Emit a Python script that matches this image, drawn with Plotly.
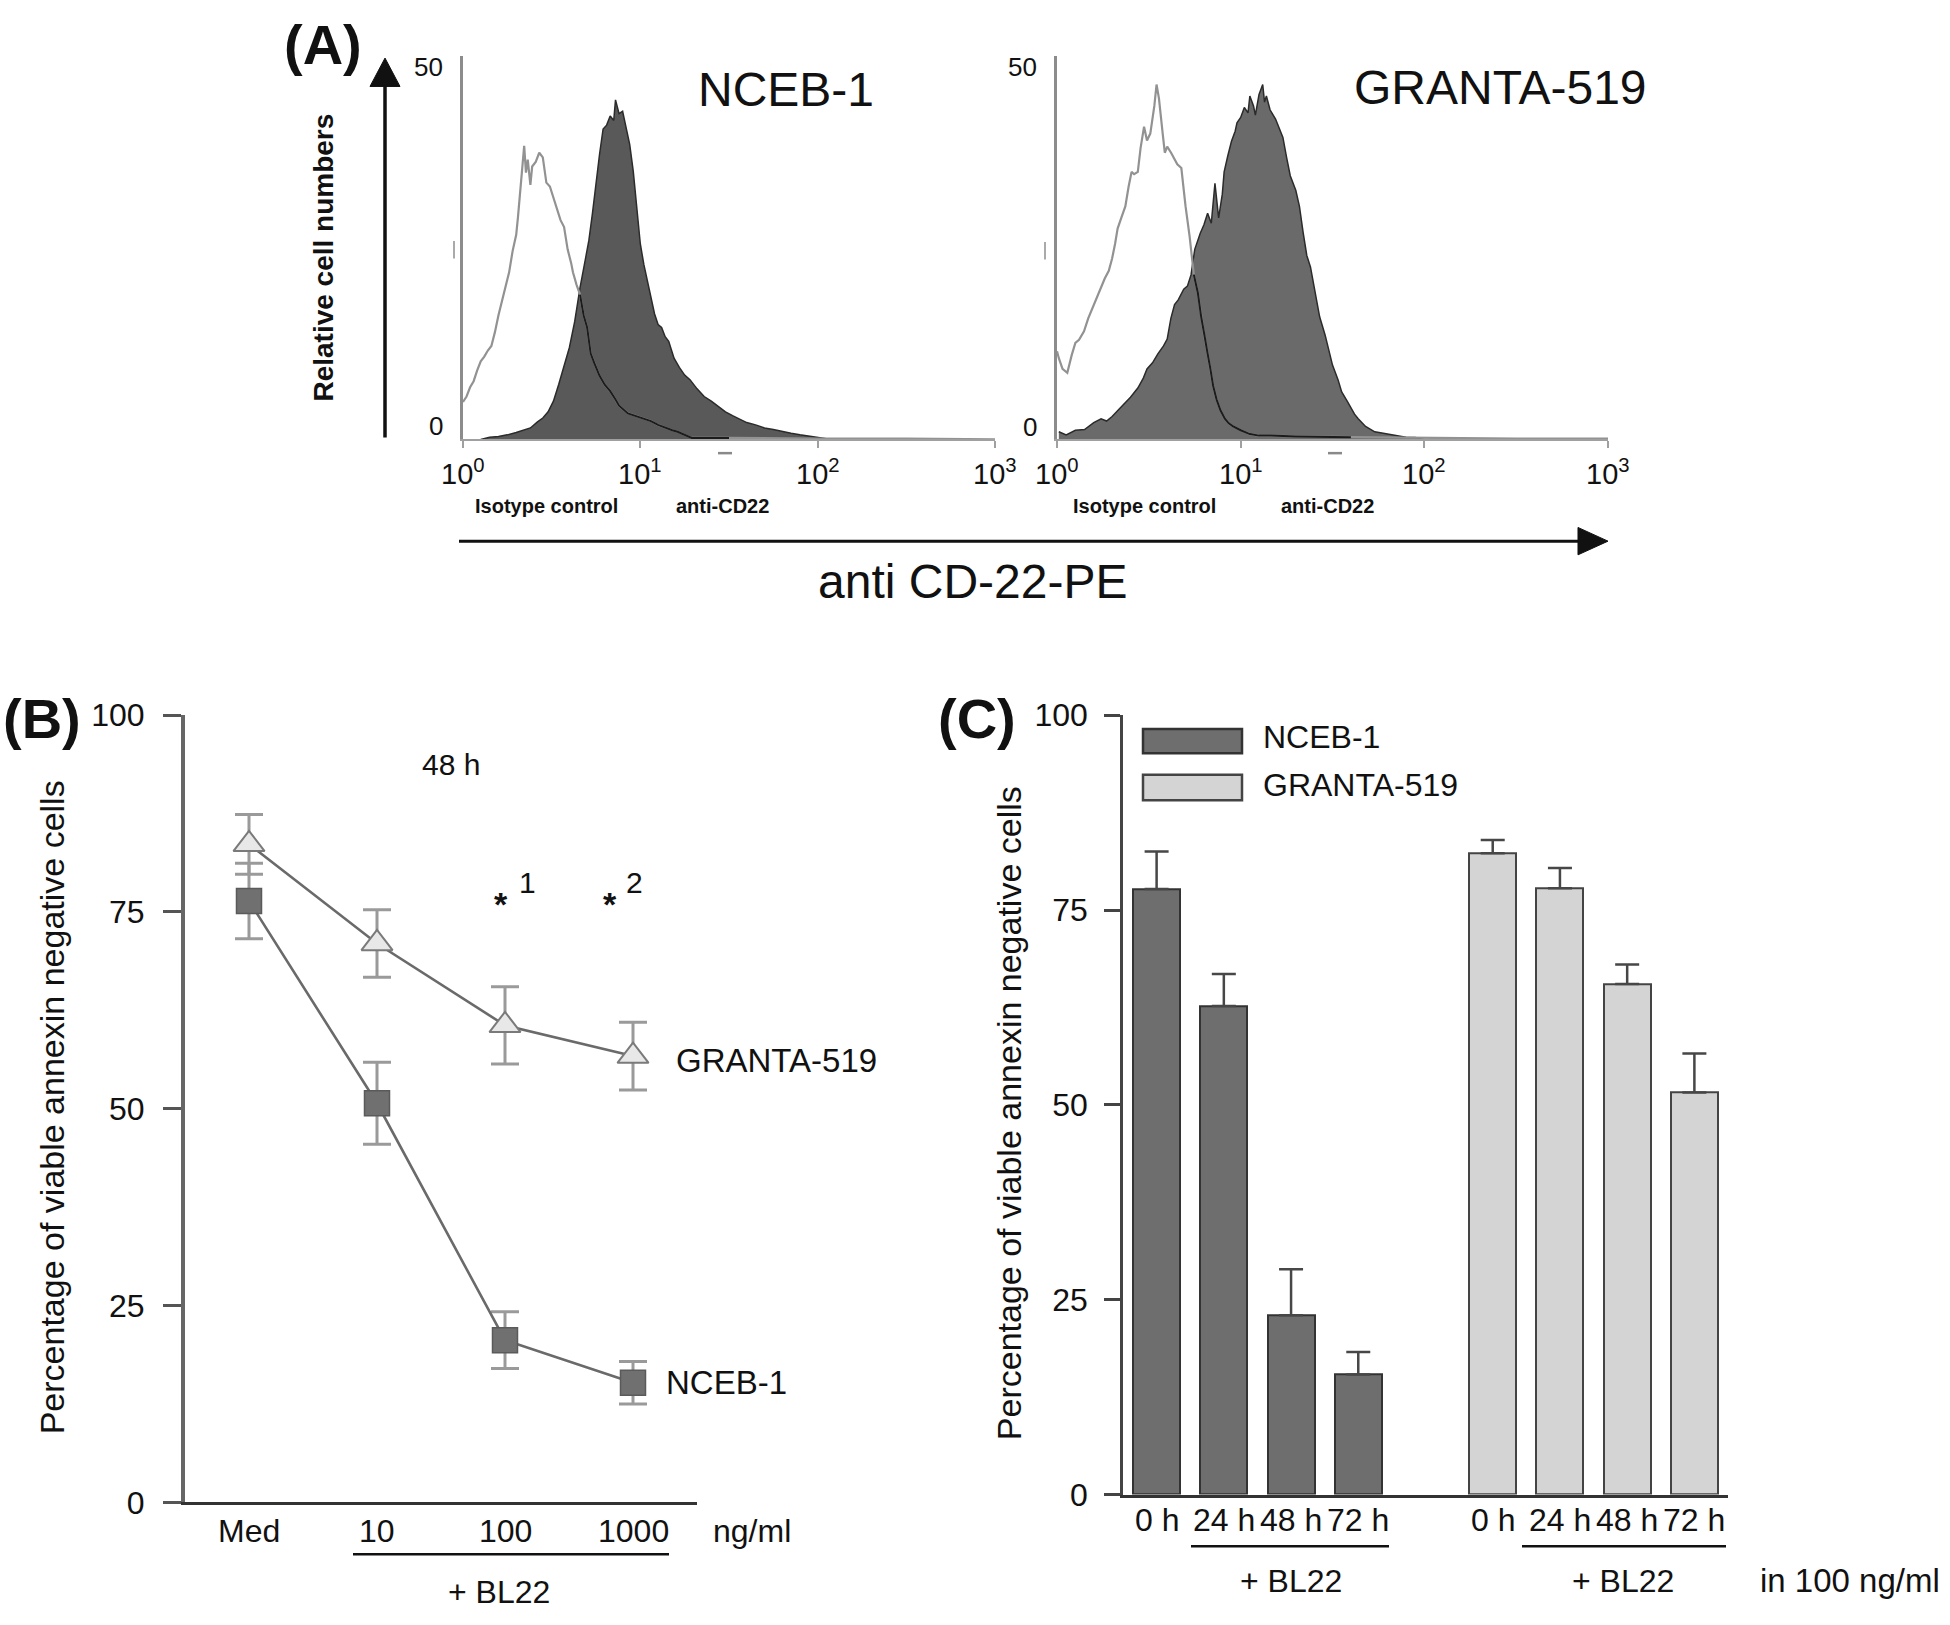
import numpy as np
import plotly.graph_objects as go

W, H = 1950, 1625
FONT = "Liberation Sans, Arial, sans-serif"

# ---------------- Panel A data (log10 fluorescence, relative cell numbers) ----------------
nceb_anti_log = [0.10, 0.15, 0.20, 0.25, 0.30, 0.34, 0.38, 0.42, 0.45, 0.48, 0.51, 0.54, 0.57, 0.60,
                 0.63, 0.66, 0.69, 0.71, 0.73, 0.75, 0.77, 0.79, 0.81, 0.83, 0.85, 0.86, 0.88, 0.90,
                 0.92, 0.94, 0.96, 0.98, 1.00, 1.02, 1.04, 1.06, 1.08, 1.10, 1.12, 1.14, 1.16, 1.19,
                 1.22, 1.25, 1.28, 1.32, 1.36, 1.40, 1.44, 1.48, 1.52, 1.56, 1.60, 1.65, 1.70, 1.75,
                 1.80, 1.85, 1.90, 1.95, 2.00, 2.05, 2.10]
nceb_anti_cnt = [0.0, 0.3, 0.4, 0.6, 0.9, 1.2, 1.5, 2.3, 2.8, 3.6, 5.0, 7.2, 9.6, 12.0,
                 15.4, 19.8, 23.5, 26.0, 29.5, 33.5, 37.2, 40.5, 41.0, 42.2, 41.6, 44.3, 42.5, 42.8,
                 40.6, 38.5, 35.0, 30.5, 25.5, 22.8, 20.6, 18.8, 16.4, 15.0, 14.6, 13.4, 12.8, 10.6,
                 9.4, 8.4, 7.8, 6.6, 5.6, 5.0, 4.3, 3.6, 3.1, 2.7, 2.2, 1.9, 1.5, 1.3,
                 1.0, 0.8, 0.6, 0.4, 0.3, 0.1, 0.0]
nceb_iso_log = [0.00, 0.02, 0.04, 0.06, 0.08, 0.10, 0.12, 0.14, 0.16, 0.18, 0.20, 0.22, 0.24, 0.26,
                0.28, 0.30, 0.31, 0.32, 0.33, 0.345, 0.355, 0.365, 0.38, 0.39, 0.41, 0.43, 0.45, 0.47,
                0.49, 0.51, 0.53, 0.55, 0.57, 0.59, 0.61, 0.62, 0.64, 0.66, 0.68, 0.70, 0.72, 0.74,
                0.77, 0.80, 0.83, 0.86, 0.88, 0.93, 0.97, 1.00, 1.03, 1.06, 1.10, 1.14, 1.18, 1.21,
                1.25, 1.29, 1.50, 2.00, 2.50, 3.00]
nceb_iso_cnt = [4.9, 5.6, 6.8, 7.6, 9.0, 10.2, 10.8, 11.6, 12.2, 14.0, 16.2, 18.0, 20.0, 21.8,
                24.6, 26.7, 29.0, 31.6, 34.5, 38.3, 34.8, 36.5, 33.2, 35.6, 36.2, 37.4, 36.8, 33.5,
                33.0, 31.5, 30.2, 28.6, 27.7, 24.8, 23.0, 21.8, 20.2, 18.9, 16.2, 14.6, 11.2, 10.0,
                8.3, 7.1, 6.3, 5.2, 4.4, 3.4, 3.1, 2.9, 2.6, 2.4, 1.9, 1.5, 1.2, 1.0,
                0.6, 0.2, 0.2, 0.1, 0.1, 0.0]

granta_anti_log = [0.01, 0.05, 0.10, 0.15, 0.20, 0.24, 0.27, 0.30, 0.34, 0.37, 0.40, 0.44, 0.47, 0.49,
                   0.52, 0.55, 0.58, 0.60, 0.62, 0.64, 0.66, 0.69, 0.71, 0.73, 0.75, 0.78, 0.80, 0.82,
                   0.84, 0.86, 0.88, 0.90, 0.91, 0.93, 0.95, 0.97, 0.98, 1.00, 1.02, 1.04, 1.05, 1.07,
                   1.08, 1.10, 1.12, 1.13, 1.14, 1.16, 1.19, 1.21, 1.23, 1.25, 1.27, 1.30, 1.32, 1.34,
                   1.36, 1.38, 1.41, 1.43, 1.46, 1.48, 1.50, 1.53, 1.55, 1.58, 1.60, 1.62, 1.64, 1.68,
                   1.73, 1.78, 1.84, 1.90, 1.95, 2.00]
granta_anti_cnt = [1.0, 0.6, 1.2, 1.3, 2.2, 2.7, 2.4, 3.0, 4.0, 4.7, 5.5, 6.7, 8.0, 9.2,
                   10.0, 11.2, 12.2, 13.1, 15.8, 17.6, 18.2, 19.6, 20.0, 21.5, 24.8, 26.9, 28.0, 29.5,
                   28.2, 33.4, 28.9, 32.0, 34.9, 37.0, 38.9, 40.2, 41.3, 42.0, 43.3, 42.6, 44.8, 43.5,
                   42.3, 45.0, 46.3, 44.0, 44.8, 43.0, 41.8, 40.6, 39.4, 36.8, 34.4, 32.5, 30.4, 27.0,
                   24.0, 22.5, 18.6, 16.0, 13.6, 11.5, 9.7, 7.8, 6.2, 5.0, 4.2, 3.3, 2.7, 1.7,
                   1.0, 0.8, 0.5, 0.3, 0.25, 0.0]
granta_iso_log = [0.00, 0.01, 0.03, 0.056, 0.08, 0.10, 0.12, 0.147, 0.17, 0.192, 0.21, 0.237, 0.26, 0.282,
                  0.30, 0.316, 0.33, 0.35, 0.372, 0.39, 0.406, 0.42, 0.44, 0.455, 0.474, 0.49, 0.508, 0.53,
                  0.542, 0.555, 0.564, 0.575, 0.587, 0.60, 0.621, 0.64, 0.655, 0.677, 0.69, 0.70, 0.722, 0.745,
                  0.767, 0.785, 0.801, 0.82, 0.835, 0.85, 0.869, 0.89, 0.914, 0.935, 0.959, 1.00, 1.05, 1.10,
                  1.163, 1.30, 1.60, 2.00, 2.50, 3.00]
granta_iso_cnt = [11.5, 10.6, 9.2, 8.7, 11.0, 12.6, 13.0, 14.1, 15.8, 17.1, 18.2, 19.6, 21.0, 22.0,
                  23.6, 25.5, 27.5, 28.9, 30.4, 33.0, 34.9, 34.6, 34.9, 38.0, 40.8, 39.0, 39.9, 43.5,
                  46.3, 44.5, 42.8, 40.0, 37.4, 38.2, 37.4, 36.5, 35.9, 35.4, 32.5, 30.4, 26.5, 21.5,
                  19.1, 16.0, 13.6, 11.2, 9.2, 7.0, 5.2, 3.8, 2.7, 2.1, 1.7, 1.2, 0.7, 0.5,
                  0.5, 0.4, 0.3, 0.2, 0.1, 0.1]

decade_vals = [0, 1, 2, 3]
decade_text = ["10<sup>0</sup>", "10<sup>1</sup>", "10<sup>2</sup>", "10<sup>3</sup>"]

# ---------------- Panel B data ----------------
b_conc = ["Med", "10", "100", "1000"]
b_granta = [83.6, 71.0, 60.6, 56.7]
b_granta_err = [3.8, 4.3, 4.9, 4.3]
b_nceb = [76.4, 50.7, 20.6, 15.2]
b_nceb_err = [4.8, 5.2, 3.6, 2.7]

# ---------------- Panel C data ----------------
c_times = ["0 h", "24 h", "48 h", "72 h"]
c_nceb = [77.7, 62.7, 23.0, 15.4]
c_nceb_err = [4.8, 4.1, 5.9, 2.9]
c_granta = [82.3, 77.8, 65.5, 51.6]
c_granta_err = [1.7, 2.6, 2.5, 5.0]

y_ticks = [0, 25, 50, 75, 100]


# ---------------- helpers (pixel -> paper coordinates) ----------------
def dx(a, b):
    return [a / W, b / W]


def dy(top, bottom):
    return [1 - bottom / H, 1 - top / H]


def PX(x):
    return x / W


def PY(y):
    return 1 - y / H


fig = go.Figure()


def add_hist(ax, ay, ix, iy, xa, ya, fill):
    fig.add_trace(go.Scatter(x=ax, y=ay, mode="lines", fill="tozeroy", fillcolor=fill,
                             line=dict(color="#2b2b2b", width=1.5), xaxis=xa, yaxis=ya,
                             showlegend=False, hoverinfo="skip"))
    fig.add_trace(go.Scatter(x=ix, y=iy, mode="lines", line=dict(color="#929292", width=2.2),
                             xaxis=xa, yaxis=ya, showlegend=False, hoverinfo="skip"))
    under = np.interp(np.array(ix), np.array(ax), np.array(ay))
    inside = [v if (v <= u + 0.6 and u > 0.5) else None for v, u in zip(iy, under)]
    fig.add_trace(go.Scatter(x=ix, y=inside, mode="lines", line=dict(color="#1c1c1c", width=2),
                             xaxis=xa, yaxis=ya, showlegend=False, hoverinfo="skip",
                             connectgaps=False))


add_hist(nceb_anti_log, nceb_anti_cnt, nceb_iso_log, nceb_iso_cnt, "x", "y", "#595959")
add_hist(granta_anti_log, granta_anti_cnt, granta_iso_log, granta_iso_cnt, "x2", "y2", "#6a6a6a")

# ---------------- Panel B traces ----------------
b_pos = list(range(len(b_conc)))
fig.add_trace(go.Scatter(
    x=b_pos, y=b_granta, mode="lines+markers", xaxis="x3", yaxis="y3", showlegend=False,
    line=dict(color="#6a6a6a", width=2.6),
    marker=dict(symbol="triangle-up", size=27, color="#e8e8e8", line=dict(color="#7a7a7a", width=2)),
    error_y=dict(type="data", array=b_granta_err, color="#9a9a9a", thickness=3, width=14)))
fig.add_trace(go.Scatter(
    x=b_pos, y=b_nceb, mode="lines+markers", xaxis="x3", yaxis="y3", showlegend=False,
    line=dict(color="#6a6a6a", width=2.6),
    marker=dict(symbol="square", size=25, color="#707070", line=dict(color="#5a5a5a", width=1.5)),
    error_y=dict(type="data", array=b_nceb_err, color="#9a9a9a", thickness=3, width=14)))

# ---------------- Panel C traces ----------------
c_pos_n = list(range(len(c_times)))
c_pos_g = [p + len(c_times) + 1 for p in c_pos_n]
fig.add_trace(go.Bar(
    x=c_pos_n, y=c_nceb, width=0.7, xaxis="x4", yaxis="y4", showlegend=False,
    marker=dict(color="#6e6e6e", line=dict(color="#333333", width=2)),
    error_y=dict(type="data", symmetric=False, array=c_nceb_err, arrayminus=[0] * 4,
                 color="#474747", thickness=2.5, width=12)))
fig.add_trace(go.Bar(
    x=c_pos_g, y=c_granta, width=0.7, xaxis="x4", yaxis="y4", showlegend=False,
    marker=dict(color="#d4d4d4", line=dict(color="#444444", width=2)),
    error_y=dict(type="data", symmetric=False, array=c_granta_err, arrayminus=[0] * 4,
                 color="#474747", thickness=2.5, width=12)))

# ---------------- Axes ----------------
hist_x = dict(range=[0, 3], showline=True, linecolor="#a0a0a0", linewidth=2, ticks="outside",
              ticklen=7, tickwidth=2, tickcolor="#a0a0a0", tickvals=decade_vals,
              showticklabels=False, showgrid=False, zeroline=False)
hist_y = dict(range=[0, 50], showline=True, linecolor="#8c8c8c", linewidth=2.5, ticks="",
              showticklabels=False, showgrid=False, zeroline=False)
tick_font = dict(family=FONT, size=32, color="#111")

fig.update_layout(
    xaxis=dict(domain=dx(463, 995), anchor="y", **hist_x),
    yaxis=dict(domain=dy(39, 431), anchor="x", **hist_y),
    xaxis2=dict(domain=dx(1057, 1608), anchor="y2", **hist_x),
    yaxis2=dict(domain=dy(39, 431), anchor="x2", **hist_y),
    xaxis3=dict(domain=dx(185, 697), anchor="y3", range=[-0.5, 3.5], showline=True,
                linecolor="#333", linewidth=3, ticks="", showticklabels=False,
                showgrid=False, zeroline=False),
    yaxis3=dict(domain=dy(713, 1518), anchor="x3", range=[0, 100], showline=True,
                linecolor="#666", linewidth=4, ticks="outside", ticklen=18, tickwidth=3,
                tickcolor="#555", tickvals=y_ticks, tickfont=tick_font,
                ticklabelstandoff=12, showgrid=False, zeroline=False),
    xaxis4=dict(domain=dx(1123, 1728), anchor="y4", range=[-0.5, 8.5], showline=True,
                linecolor="#333", linewidth=2.5, ticks="", showticklabels=False,
                showgrid=False, zeroline=False),
    yaxis4=dict(domain=dy(713, 1510), anchor="x4", range=[0, 100], showline=True,
                linecolor="#444", linewidth=2.5, ticks="outside", ticklen=16, tickwidth=2.5,
                tickcolor="#444", tickvals=y_ticks, tickfont=tick_font,
                ticklabelstandoff=10, showgrid=False, zeroline=False),
    width=W, height=H, margin=dict(l=0, r=0, t=0, b=0, pad=0), autosize=False,
    paper_bgcolor="white", plot_bgcolor="rgba(0,0,0,0)", showlegend=False,
    font=dict(family=FONT, color="#111"), bargap=0,
)

# ---------------- Annotations ----------------
ann = []


def T(x, y, text, size, bold=False, anchor="center", angle=0, color="#111"):
    if bold:
        text = "<b>" + text + "</b>"
    ann.append(dict(x=PX(x), y=PY(y), xref="paper", yref="paper", text=text, showarrow=False,
                    xanchor=anchor, yanchor="middle", textangle=angle,
                    font=dict(family=FONT, size=size, color=color)))


def TX(xref, xval, y, text, size):
    ann.append(dict(x=xval, y=PY(y), xref=xref, yref="paper", text=text, showarrow=False,
                    xanchor="center", yanchor="middle", font=dict(family=FONT, size=size, color="#111")))


# Panel A
T(323, 27, "(A)", 56, bold=True)
T(324, 245, "Relative cell numbers", 28, bold=True, angle=-90)
T(445, 50, "50", 26, anchor="right")
T(445, 417, "0", 26, anchor="right")
T(1039, 50, "50", 26, anchor="right")
T(1039, 418, "0", 26, anchor="right")
for v, t in zip(decade_vals, decade_text):
    TX("x", v, 464, t, 29)
    TX("x2", v, 464, t, 29)
T(786, 73, "NCEB-1", 48)
T(1500, 71, "GRANTA-519", 48)
T(546, 499, "Isotype control", 20, bold=True)
T(722, 499, "anti-CD22", 20, bold=True)
T(1144, 499, "Isotype control", 20, bold=True)
T(1327, 499, "anti-CD22", 20, bold=True)
T(972, 576, "anti CD-22-PE", 48)

# Panel B
T(42, 716, "(B)", 56, bold=True)
T(52, 1114, "Percentage of viable annexin negative cells", 34, angle=-90)
for p, t in zip(b_pos, b_conc):
    TX("x3", p, 1547, t, 32)
T(451, 763, "48 h", 30)
T(501, 906, "*", 34, bold=True)
T(527, 884, "1", 30)
T(610, 906, "*", 34, bold=True)
T(634, 884, "2", 30)
T(674, 1066, "GRANTA-519", 33, anchor="left")
T(664, 1395, "NCEB-1", 33, anchor="left")
T(752, 1547, "ng/ml", 32)
T(499, 1610, "+ BL22", 32)

# Panel C
T(977, 716, "(C)", 56, bold=True)
T(1009, 1120, "Percentage of viable annexin negative cells", 34, angle=-90)
for p, t in zip(c_pos_n + c_pos_g, c_times + c_times):
    TX("x4", p, 1536, t, 32)
T(1261, 735, "NCEB-1", 32, anchor="left")
T(1261, 784, "GRANTA-519", 32, anchor="left")
T(1291, 1598, "+ BL22", 32)
T(1623, 1598, "+ BL22", 32)
T(1758, 1598, "in 100 ng/ml", 33, anchor="left")

fig.update_layout(annotations=ann)

# ---------------- Shapes (arrows, underlines, legend swatches) ----------------
shapes = []


def L(x0, y0, x1, y1, color="#111", width=3):
    shapes.append(dict(type="line", xref="paper", yref="paper", x0=PX(x0), y0=PY(y0),
                       x1=PX(x1), y1=PY(y1), line=dict(color=color, width=width)))


def POLY(pts, color="#111"):
    path = "M " + " L ".join(f"{PX(x):.5f},{PY(y):.5f}" for x, y in pts) + " Z"
    shapes.append(dict(type="path", xref="paper", yref="paper", path=path,
                       fillcolor=color, line=dict(color=color, width=1)))


def RECT(x0, y0, x1, y1, fill, line):
    shapes.append(dict(type="rect", xref="paper", yref="paper", x0=PX(x0), y0=PY(y0),
                       x1=PX(x1), y1=PY(y1), fillcolor=fill, line=dict(color=line, width=2.5)))


# vertical arrow (Relative cell numbers)
L(385, 429, 385, 66, width=3.5)
POLY([(370, 70), (400, 70), (385, 41)])
# horizontal arrow (anti CD-22-PE)
L(459, 535, 1582, 535, width=3)
POLY([(1578, 521), (1608, 535), (1578, 549)])
# small marks on histograms
L(454, 228, 454, 246, color="#aaaaaa", width=2)
L(1045, 229, 1045, 247, color="#aaaaaa", width=2)
L(718, 445, 732, 445, color="#8a8a8a", width=2.5)
L(1328, 445, 1342, 445, color="#8a8a8a", width=2.5)
# underline for + BL22 in B
L(353, 1571, 669, 1571, width=2.5)
# underlines in C
L(1191, 1563, 1389, 1563, width=2.5)
L(1522, 1563, 1726, 1563, width=2.5)
# legend swatches in C
RECT(1143, 727, 1242, 752, "#6e6e6e", "#333333")
RECT(1143, 774, 1242, 800, "#d4d4d4", "#444444")

fig.update_layout(shapes=shapes)

page_css = ("document.documentElement.style.margin='0';document.documentElement.style.padding='0';"
            "document.documentElement.style.overflow='hidden';"
            "document.body.style.margin='0';document.body.style.padding='0';"
            "document.body.style.overflow='hidden';")
fig.write_html("out.html", post_script=page_css, config={"displayModeBar": False})
